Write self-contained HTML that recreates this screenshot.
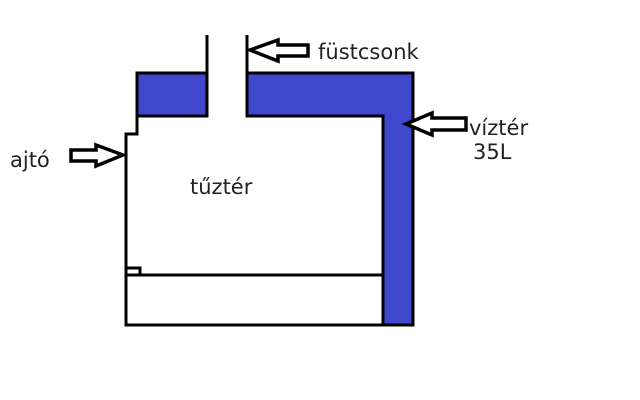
<!DOCTYPE html>
<html><head><meta charset="utf-8"><style>
html,body{margin:0;padding:0;background:#fff;}
svg{display:block}
text{font-family:"DejaVu Sans","Liberation Sans",sans-serif;font-size:21px;fill:#222}
</style></head><body>
<svg width="640" height="400" viewBox="0 0 640 400" xmlns="http://www.w3.org/2000/svg">
<g stroke="#000" stroke-width="3" stroke-linejoin="miter">
<path d="M137,73 L207,73 L207,116 L137,116 Z" fill="#3f48cc"/>
<path d="M247,73 L413,73 L413,325 L383,325 L383,116 L247,116 Z" fill="#3f48cc"/>
<line x1="207" y1="35" x2="207" y2="116" fill="none"/>
<line x1="247" y1="35" x2="247" y2="116" fill="none"/>
<path d="M137,116 L137,134 L126,134 L126,268 L140,268 L140,275" fill="none"/>
<path d="M126,275 L383,275" fill="none"/>
<path d="M126,268 L126,325 L383,325" fill="none"/>
</g>
<g stroke="#000" stroke-width="3.5" stroke-linejoin="miter">
<path d="M250,50 L278,40 L278,45 L308,45 L308,56 L278,56 L278,61 Z" fill="#fff"/>
<path d="M123,155 L96,145 L96,150 L71,150 L71,161 L96,161 L96,166 Z" fill="#fff"/>
<path d="M406,124 L432,113 L432,118 L466,118 L466,130 L432,130 L432,135 Z" fill="#fff"/>
</g>
<text x="318" y="59">füstcsonk</text>
<text x="10" y="167">ajtó</text>
<text x="469" y="135">víztér</text>
<text x="473" y="159">35L</text>
<text x="190" y="194">tűztér</text>
</svg>
</body></html>
